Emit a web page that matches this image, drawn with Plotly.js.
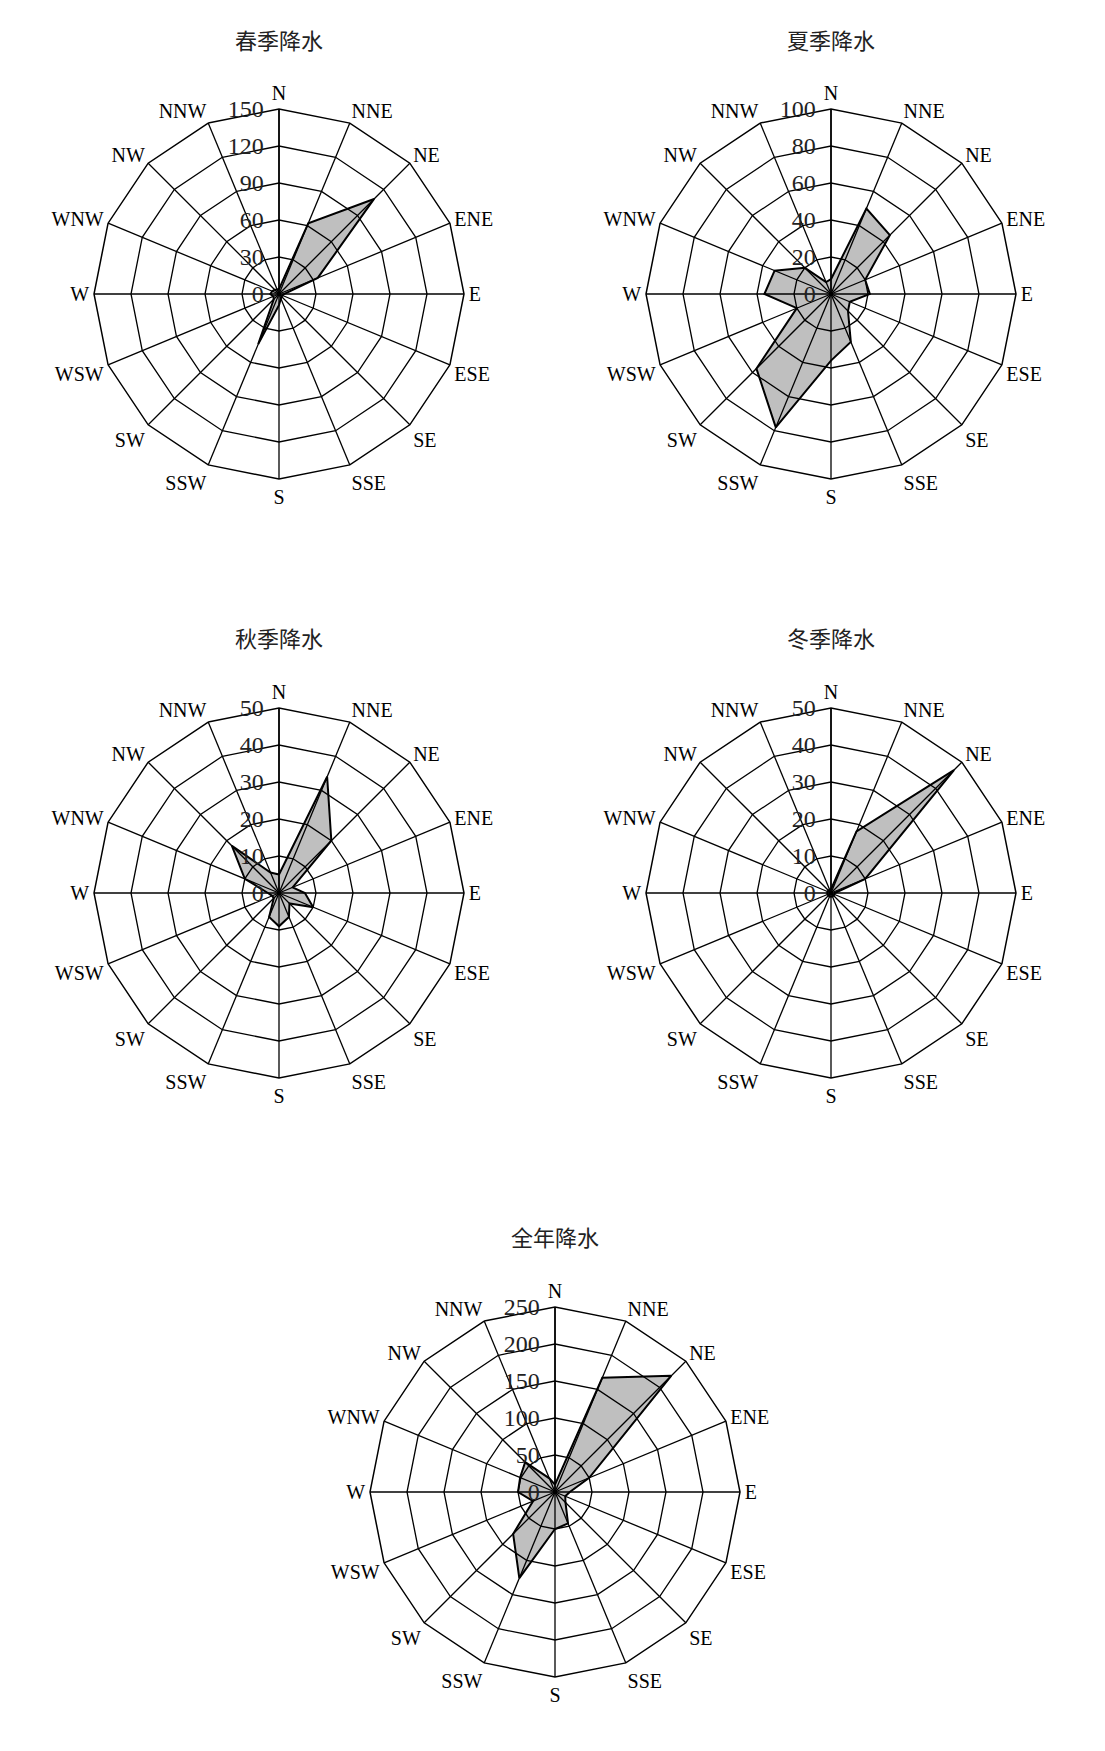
<!DOCTYPE html>
<html>
<head>
<meta charset="utf-8">
<script src="https://cdn.plot.ly/plotly-3.0.1.min.js"></script>
<style>
html,body{margin:0;padding:0;background:#fff;}
#chart{width:1105px;height:1751px;}
</style>
</head>
<body>
<div id="chart"></div>
<script>
// Wind directions (clockwise from north)
const directions = ["N","NNE","NE","ENE","E","ESE","SE","SSE","S","SSW","SW","WSW","W","WNW","NW","NNW"];

// Chart titles
const titles = ["春季降水","夏季降水","秋季降水","冬季降水","全年降水"];

// Precipitation by direction
const spring = [4, 62, 109, 34, 4, 3, 3, 4, 9, 44, 6, 5, 7, 6, 5, 4];
const summer = [8, 50, 45, 20, 21, 11, 13, 28, 36, 78, 57, 20, 36, 33, 20, 7];
const autumn = [5, 34, 20, 4, 7, 10, 4, 7, 9, 7, 2, 2, 3, 10, 18, 6];
const winter = [1, 18, 47, 10, 1, 1, 1, 1, 1, 1, 1, 1, 1, 1, 1, 1];
const annual = [10, 167, 222, 50, 20, 15, 20, 46, 50, 126, 80, 32, 50, 51, 57, 20];

// Radial tick values / labels
const springTicks = [0, 30, 60, 90, 120, 150];
const summerTicks = [0, 20, 40, 60, 80, 100];
const autumnTicks = [0, 10, 20, 30, 40, 50];
const winterTicks = [0, 10, 20, 30, 40, 50];
const annualTicks = [0, 50, 100, 150, 200, 250];

const W = 1105, H = 1751, R = 185;
const centers = [[279,294],[831,294],[279,893],[831,893],[555,1492]];
const titleY = [39, 39, 637, 637, 1236];
const series = [spring, summer, autumn, winter, annual];
const ticks = [springTicks, summerTicks, autumnTicks, winterTicks, annualTicks];

// small gap between the labels and the radial axis line
function padLabel(v) {
  return String(v) + "\u00a0";
}

const data = [];
const layout = {
  width: W, height: H,
  margin: {l:0, r:0, t:0, b:0},
  paper_bgcolor: "#ffffff",
  showlegend: false,
  annotations: [],
  font: {family: "Liberation Serif", color: "#000"}
};

series.forEach((vals, i) => {
  const key = i === 0 ? "polar" : "polar" + (i + 1);
  const [cx, cy] = centers[i];
  const tv = ticks[i];
  data.push({
    type: "scatterpolar",
    subplot: key,
    r: vals.concat([vals[0]]),
    theta: directions.concat([directions[0]]),
    mode: "lines",
    fill: "toself",
    fillcolor: "rgba(0,0,0,0.25)",
    line: {color: "#000", width: 2},
    hoverinfo: "skip"
  });
  layout[key] = {
    domain: {
      x: [(cx - R) / W, (cx + R) / W],
      y: [1 - (cy + R) / H, 1 - (cy - R) / H]
    },
    bgcolor: "#ffffff",
    gridshape: "linear",
    angularaxis: {
      type: "category",
      categoryarray: directions,
      direction: "clockwise",
      rotation: 90,
      showline: true,
      linecolor: "#000",
      linewidth: 1.5,
      gridcolor: "#000",
      gridwidth: 1.3,
      ticks: "",
      tickfont: {family: "Liberation Serif", size: 20, color: "#000"}
    },
    radialaxis: {
      range: [0, tv[tv.length - 1]],
      tickmode: "array",
      tickvals: tv,
      ticktext: tv.map(padLabel),
      angle: 90,
      side: "counterclockwise",
      tickangle: 90,
      showline: true,
      linecolor: "#000",
      linewidth: 1.5,
      gridcolor: "#000",
      gridwidth: 1.3,
      ticks: "",
      tickfont: {family: "Liberation Serif", size: 24, color: "#222"}
    }
  };
  layout.annotations.push({
    text: titles[i],
    xref: "paper", yref: "paper",
    x: cx / W, y: 1 - titleY[i] / H,
    xanchor: "center", yanchor: "middle",
    showarrow: false,
    font: {family: "Noto Sans CJK SC", size: 22, color: "#222"}
  });
});

Plotly.newPlot("chart", data, layout, {staticPlot: true});
</script>
</body>
</html>
